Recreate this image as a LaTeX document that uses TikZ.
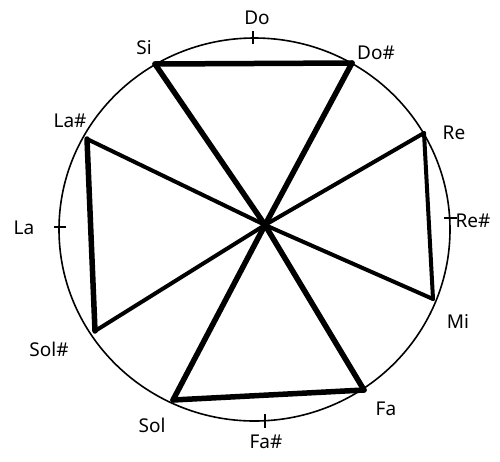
\documentclass[tikz,border=0pt]{standalone}
\usepackage{fontspec}
\setmainfont{Noto Sans}
\begin{document}
\begin{tikzpicture}[x=1pt,y=-1pt,
  chord/.style={line width=5.5pt,line cap=round,line join=round},
  thinchord/.style={line width=4pt,line cap=round,line join=round},
  lbl/.style={inner sep=0pt,font=\fontsize{19}{20}\selectfont},
  tick/.style={line width=1.3pt}]
\useasboundingbox (0,0) rectangle (500,461);
\coordinate (O) at (254.5,229.5);
\draw[line width=1.6pt] (O) ellipse [x radius=195.5, y radius=191.5];
% points
\coordinate (Si) at (155,64);
\coordinate (Dos) at (352,63);
\coordinate (Las) at (87,139);
\coordinate (Sols) at (95,331);
\coordinate (Re) at (424,133);
\coordinate (Mi) at (433,299);
\coordinate (Sol) at (173,400);
\coordinate (Fa) at (364,390);
\coordinate (C) at (265,225);
% ticks
\coordinate (DoT1) at (253,31); \coordinate (DoT2) at (253,44);
\coordinate (ReT1) at (444,218); \coordinate (ReT2) at (457,218);
\coordinate (LaT1) at (54,227); \coordinate (LaT2) at (66,227);
\coordinate (FaT1) at (265,414); \coordinate (FaT2) at (265,428);
\draw[tick] (DoT1) -- (DoT2);
\draw[tick] (ReT1) -- (ReT2);
\draw[tick] (LaT1) -- (LaT2);
\draw[tick] (FaT1) -- (FaT2);
% chords
\draw[chord] (Si) -- (Dos);
\draw[chord] (Si) -- (C) -- (Fa);
\draw[chord] (Dos) -- (C) -- (Sol);
\draw[chord] (Sol) -- (Fa);
\draw[chord] (Las) -- (Sols);
\draw[thinchord] (Las) -- (C) -- (Mi);
\draw[thinchord] (Sols) -- (C) -- (Re);
\draw[thinchord] (Re) -- (Mi);
% labels
\node[lbl] (lDo) at (257,18) {Do};
\node[lbl] (lSi) at (144,48) {Si};
\node[lbl] (lDos) at (376,53) {Do\#};
\node[lbl] (lLas) at (70,121) {La\#};
\node[lbl] (lLa) at (24,228) {La};
\node[lbl] (lRe) at (454,133) {Re};
\node[lbl] (lRes) at (473,221) {Re\#};
\node[lbl] (lSols) at (49,349) {Sol\#};
\node[lbl] (lMi) at (458,321) {Mi};
\node[lbl] (lSol) at (152,425) {Sol};
\node[lbl] (lFa) at (386,409) {Fa};
\node[lbl] (lFas) at (266,442) {Fa\#};
\end{tikzpicture}
\end{document}
